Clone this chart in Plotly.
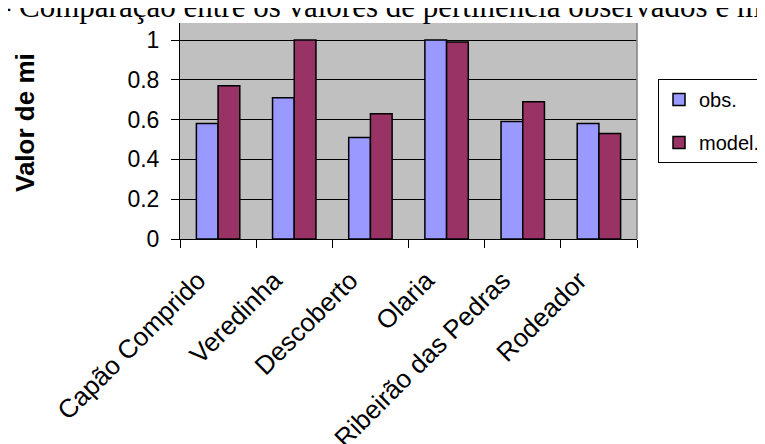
import plotly.graph_objects as go

categories = ["Capão Comprido", "Veredinha", "Descoberto", "Olaria", "Ribeirão das Pedras", "Rodeador"]
obs_values = [0.58, 0.71, 0.51, 1.00, 0.59, 0.58]
model_values = [0.77, 1.00, 0.63, 0.99, 0.69, 0.53]
y_ticks = [0, 0.2, 0.4, 0.6, 0.8, 1]
y_tick_labels = ["0", "0.2", "0.4", "0.6", "0.8", "1"]

W, H = 765, 444
OFF = 8  # page body margin offset
# plot area in screen pixels (reference)
X0, X1, Y0, Y1 = 180, 637, 23, 239
L, R, T, B = X0 - OFF, W - (X1 - OFF), Y0 - OFF, H - (Y1 - OFF)
pw, ph = W - L - R, H - T - B

def px_x(x):
    return (x - OFF - L) / pw

def px_y(y):
    return (H - B - (y - OFF)) / ph

fig = go.Figure()
fig.add_trace(go.Bar(x=categories, y=obs_values, name="obs.", legendgroup="a",
                     marker=dict(color="#9999FF", line=dict(color="black", width=1.5))))
fig.add_trace(go.Bar(x=categories, y=model_values, name="model.", legendgroup="b",
                     marker=dict(color="#993366", line=dict(color="black", width=1.5))))

fig.update_layout(
    width=W, height=H,
    margin=dict(l=L, r=R, t=T, b=B, autoexpand=False),
    paper_bgcolor="white",
    plot_bgcolor="#C0C0C0",
    barmode="group",
    bargap=0.43,
    bargroupgap=0,
    font=dict(family="Liberation Sans, Arial, sans-serif", color="black", size=23),
    showlegend=True,
    legend=dict(x=px_x(658), y=px_y(79), xanchor="left", yanchor="top",
                bordercolor="black", borderwidth=1, bgcolor="white",
                font=dict(size=20), traceorder="grouped", tracegroupgap=14,
                itemwidth=30),
    xaxis=dict(type="category", showgrid=False, showline=True, linecolor="black", linewidth=1,
               ticks="outside", tickson="boundaries", ticklen=8, tickcolor="black",
               tickangle=-45, tickfont=dict(size=26), automargin=False,
               ticklabelstandoff=15, ticklabelshift=-20),
    yaxis=dict(range=[0, (Y1 - Y0) / 199], tickvals=y_ticks, ticktext=y_tick_labels,
               showgrid=True, gridcolor="black", gridwidth=1, zeroline=False,
               showline=True, linecolor="black", linewidth=1, automargin=False,
               ticks="outside", ticklen=8, tickcolor="black", tickfont=dict(size=23),
               ticklabelstandoff=7),
)

fig.add_shape(type="line", xref="paper", yref="paper", x0=1, x1=1, y0=0, y1=1,
              line=dict(color="#808080", width=1.5))

fig.add_annotation(text="- Comparação entre os valores de pertinência observados e modelados",
                   xref="paper", yref="paper", x=px_x(-1), y=px_y(7), xanchor="left", yanchor="middle",
                   showarrow=False, font=dict(family="Liberation Serif, Times New Roman, serif", size=31))

fig.add_annotation(text="<b>Valor de mi</b>", xref="paper", yref="paper",
                   x=px_x(24.5), y=px_y(122.5), xanchor="center", yanchor="middle",
                   textangle=-90, showarrow=False, font=dict(size=26))

fig.write_html("out.html")
